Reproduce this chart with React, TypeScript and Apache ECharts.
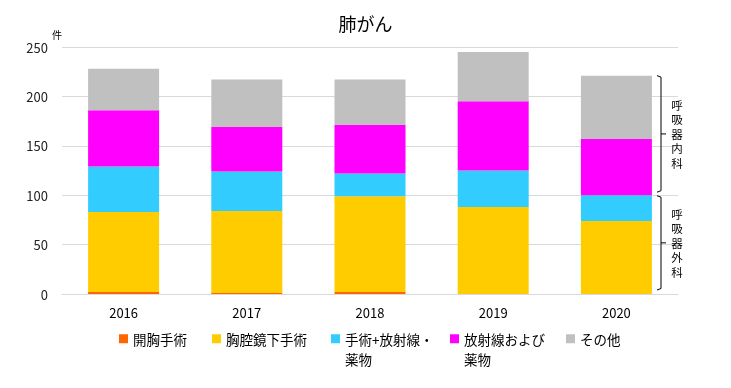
import React, { useEffect, useRef } from "react";
import * as echarts from "echarts";

const categories = ["2016", "2017", "2018", "2019", "2020"];
const openSurgery = [2, 1, 2, 0, 0];
const vatsSurgery = [81, 83, 97, 88, 74];
const surgeryRadDrug = [46, 40, 23, 37, 26];
const radAndDrug = [57, 45, 49, 70, 57];
const others = [42, 48, 46, 50, 64];
const yTicks = [0, 50, 100, 150, 200, 250];

const seriesNames = ["開胸手術", "胸腔鏡下手術", "手術+放射線・薬物", "放射線および薬物", "その他"];
const legendFirstLine = ["開胸手術", "胸腔鏡下手術", "手術+放射線・", "放射線および", "その他"];
const legendSecondLine = ["", "", "薬物", "薬物", ""];
const colors = ["#ff6600", "#ffcc00", "#33ccff", "#ff00ff", "#c0c0c0"];
const seriesData = [openSurgery, vatsSurgery, surgeryRadDrug, radAndDrug, others];

const FONT = "'Noto Sans CJK JP', 'Noto Sans', sans-serif";

export default function App() {
  const ref = useRef<HTMLDivElement>(null);
  useEffect(() => {
    if (!ref.current) return;
    const chart = echarts.init(ref.current, undefined, { renderer: "svg" });
    const legendLeft = [119, 212, 331, 450, 566];
    const legends = seriesNames.map((name, i) => ({
      show: true,
      left: legendLeft[i],
      top: 332,
      orient: "horizontal",
      padding: 0,
      data: [{ name, icon: "rect" }],
      itemWidth: 9,
      itemHeight: 9,
      selectedMode: false,
      formatter: () => legendFirstLine[i],
      textStyle: { fontFamily: FONT, fontSize: 13.5, color: "#000" },
    }));
    chart.setOption({
      animation: false,
      title: {
        text: "肺がん",
        left: "center",
        top: 9,
        textStyle: { fontFamily: FONT, fontSize: 18, fontWeight: "normal", color: "#000" },
      },
      legend: legends,
      grid: { left: 62, right: 53, top: 47, bottom: 94, containLabel: false },
      xAxis: {
        type: "category",
        data: categories,
        axisLine: { lineStyle: { color: "#d9d9d9" } },
        axisTick: { show: false },
        axisLabel: { fontFamily: FONT, fontSize: 13, color: "#000", margin: 12 },
      },
      yAxis: {
        type: "value",
        min: yTicks[0],
        max: yTicks[yTicks.length - 1],
        interval: 50,
        name: "件",
        nameLocation: "end",
        nameGap: 8,
        nameTextStyle: { fontFamily: FONT, fontSize: 10, color: "#000", align: "center", padding: [0, 10, 0, 0] },
        axisLine: { show: false },
        axisTick: { show: false },
        splitLine: { lineStyle: { color: "#d9d9d9" } },
        axisLabel: { fontFamily: FONT, fontSize: 13, color: "#222", margin: 14 },
      },
      series: seriesNames.map((name, i) => ({
        name,
        type: "bar",
        stack: "total",
        barWidth: 71,
        data: seriesData[i],
        itemStyle: { color: colors[i] },
      })),
    });

    const last = categories.length - 1;
    const total = seriesData.reduce((s, arr) => s + arr[last], 0);
    const surgeryTotal = openSurgery[last] + vatsSurgery[last] + surgeryRadDrug[last];
    const yTop = chart.convertToPixel({ yAxisIndex: 0 }, total) as number;
    const yMid = chart.convertToPixel({ yAxisIndex: 0 }, surgeryTotal) as number;
    const yZero = chart.convertToPixel({ yAxisIndex: 0 }, 0) as number;
    const bx = 661;
    const bracket = (t: number, b: number) => {
      const m = (t + b) / 2;
      return [
        { type: "polyline", shape: { points: [[657, t], [bx, t + 1.5], [bx, b - 1.5], [657, b]] }, style: { stroke: "#000", lineWidth: 1, fill: "none" } },
        { type: "line", shape: { x1: bx, y1: m, x2: bx + 5, y2: m }, style: { stroke: "#000", lineWidth: 1 } },
      ];
    };
    const upper = bracket(yTop, yMid - 3);
    const lower = bracket(yMid + 0.5, yZero - 4);
    const step = 14.5;
    const vtext = (s: string, cy: number) => {
      const chars = s.split("");
      const start = cy - ((chars.length - 1) * step) / 2;
      return chars.map((c, k) => ({
        type: "text",
        x: 677,
        y: start + k * step,
        style: {
          text: c,
          fontFamily: FONT,
          fontSize: 11.5,
          fill: "#000",
          align: "center",
          verticalAlign: "middle",
        },
      }));
    };
    const secondLines = legendSecondLine
      .map((t, i) => ({ t, i }))
      .filter((o) => o.t)
      .map((o) => ({
        type: "text",
        x: legendLeft[o.i] + 14,
        y: 359,
        style: { text: o.t, fontFamily: FONT, fontSize: 13.5, fill: "#000", verticalAlign: "middle" },
      }));
    chart.setOption({
      graphic: [
        ...upper,
        ...lower,
        ...vtext("呼吸器内科", (yTop + yMid - 3) / 2),
        ...vtext("呼吸器外科", (yMid + yZero - 3.5) / 2),
        ...secondLines,
      ],
    });
    return () => chart.dispose();
  }, []);
  return <div ref={ref} style={{ position: "fixed", left: 0, top: 0, width: 731, height: 388 }} />;
}
